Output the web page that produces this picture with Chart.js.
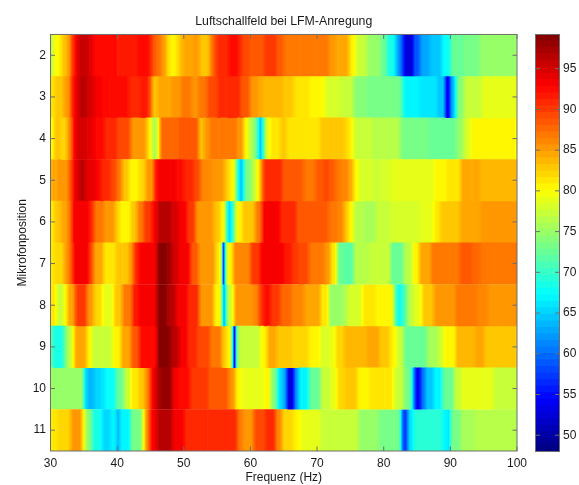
<!DOCTYPE html>
<html>
<head>
<meta charset="utf-8">
<title>Luftschallfeld bei LFM-Anregung</title>
<script src="https://cdn.jsdelivr.net/npm/chart.js@4/dist/chart.umd.min.js"></script>
<style>
  html, body { margin: 0; padding: 0; background: #fff; overflow: hidden; }
  canvas { position: absolute; top: 0; }
  #field { left: 0; }
  #scale { left: 520px; }
</style>
</head>
<body>
<canvas id="field" width="540" height="485"></canvas>
<canvas id="scale" width="59" height="485"></canvas>
<script>
// Microphone positions, top to bottom
const positions = ["2", "3", "4", "5", "6", "7", "8", "9", "10", "11"];

// Each row: [frequency in Hz where the band starts, level]; a band runs up to the next start
const row2 = [[30,77],[30.4,79.5],[31,80.5],[31.6,82.5],[32.2,84],[32.8,87],[33.2,91],[33.8,94],[34.2,95.5],[35.8,94],[36.4,92.8],[39.8,92],[40,91.3],[42.8,92],[45,90],[45.4,88],[46,87],[46.6,85.5],[47,84.5],[47.4,82],[47.8,80.8],[49,82],[49.4,83.5],[50,84.5],[51.4,85],[52.2,84],[52.6,82.5],[53.6,84],[54,87],[54.5,89],[55,91],[56.8,92.5],[58.2,90.5],[58.8,89],[60,88],[62,90],[64,88],[65,87],[67.25,86.4],[70,87],[71.75,85],[73,84],[74.75,82],[75.1,80],[75.9,77],[77.5,75],[79.5,72.5],[80.5,68],[81.75,63],[82.5,58],[83.1,52],[84.4,59],[85.5,63],[87,64.5],[88.75,67.5],[90,72],[92,73.5],[94.5,75]];
const row3 = [[30,81.5],[30.75,83],[32,85],[33,91],[33.6,94],[34.25,96],[35.6,94.5],[36.5,93.5],[37.5,92.8],[38.75,92],[41.75,91],[43.5,91.5],[44.75,88],[45.25,83],[46,84],[48,85],[49.5,86.4],[51.25,85.5],[52.25,87],[53.5,89],[55,90.5],[56.5,91],[58.5,88],[60,85],[61.25,84],[62,83.5],[65,82.5],[66.5,81.5],[68.75,80.5],[70.5,80],[71.25,78],[73.5,77],[75.5,74],[77.25,73.5],[82.5,70.5],[83,66.5],[85.5,66],[88,64.5],[89.25,53],[89.85,60],[90.25,65],[90.9,74],[92,77],[94.75,79]];
const row4 = [[30,80],[30.5,83],[31.5,82],[32.5,86],[33.25,92],[33.75,95],[35.5,94],[36.5,92.8],[38,91],[40,89],[42,85.5],[44.25,83],[44.75,80],[45.25,75.5],[46,80],[46.4,87.5],[49,88],[52.25,83],[53,85],[53.75,86.4],[55.5,87],[58,85],[59,80],[59.75,76],[60.6,72],[61.2,64],[61.8,72],[62.25,79],[63,81.5],[64.5,82.5],[65.5,81.3],[70.5,83],[74,82],[74.75,80.5],[75.5,77],[78.5,76],[82.5,73.5],[86.5,72.8],[91,75],[92,78],[93,80]];
const row5 = [[30,84],[31,85.5],[32.75,89],[33.4,94],[34.25,96],[35.25,94],[36.75,92.8],[37.5,91],[39,89],[40,86.5],[40.75,83],[41.75,80.5],[43.25,82],[44.25,85],[45.5,91],[46,93.3],[47.75,93],[49,92],[50,91],[51.5,89],[52.5,86],[54,85.5],[56,83],[56.75,80.5],[57.75,71],[58.25,64],[59,73],[60,76],[60.75,80],[61.5,87],[62,91],[64.75,88],[68,87],[69.75,88],[71,89.5],[71.75,88],[72.75,87],[73.5,86],[74.75,84],[75.5,80],[76.25,78],[78.5,77.5],[79.5,78],[81,78.5],[87.5,80],[89.25,81],[91.5,84],[93.25,84.3],[94.5,83.5]];
const row6 = [[30,81],[30.6,83],[31.5,84],[32.5,87],[33.25,93.5],[35.75,91],[36.5,87],[38,85],[39.75,82],[40.5,80],[42,83],[43,86.5],[44,90],[45.25,93],[46,96],[48.25,94.5],[49.25,93],[50.5,90],[51.75,85],[54.5,83],[55.5,80],[56.25,72],[56.5,65.5],[57.25,72],[57.75,80],[58.75,83],[60.75,87],[61.75,93],[64.5,90.5],[67,88],[71.75,87],[73,86],[74,83],[74.75,80],[75.5,76.5],[77,75.5],[78.75,77],[81,78],[85.5,79],[87.5,81],[88.5,83],[91.5,84.5],[94.5,85]];
const row7 = [[30,81],[30.6,82],[32,85],[32.75,88],[33.4,93.5],[35.75,89],[36.5,84],[38,81],[39.75,83],[40.75,82.5],[41.75,85.5],[42.5,91],[43.25,93],[46,99],[47.5,97.5],[48.25,95],[49.25,93],[51,88],[52.25,85],[54.75,81],[55.6,73],[55.8,56],[56.15,74],[56.5,80.5],[57.4,86],[60,90],[61.5,93.5],[65,91.5],[66.25,90],[67.25,89],[68.75,87],[71,85.5],[72,81],[73,72.5],[74,71.8],[75.5,76.5],[78,77.5],[81,72.5],[83,76.5],[84.25,80],[85.25,84],[87,86.4],[90,87],[91.5,88.5],[93.25,87.5],[94.5,87]];
const row8 = [[30,81],[30.9,77.5],[32,80],[32.5,84],[33.4,86.5],[33.75,89.7],[35.5,85],[36.5,82],[37.75,79],[39.5,83],[40.75,86.4],[42.25,91.5],[43.25,93.5],[46,99],[47.5,96.5],[48.75,93.5],[50.5,91],[52.25,85.5],[54.5,80.5],[55.75,63],[56.3,73],[56.6,78],[57.5,85],[60.25,86],[61.25,90],[62,92.3],[63,90],[64.5,87.5],[66.25,86],[68,84.8],[70.5,81],[71.75,74.5],[73.5,75.5],[74.5,78],[76.75,81],[79,80],[81.5,72],[82,67.5],[82.75,71],[83.5,76.5],[84.5,79],[85.75,83],[87.5,85],[90.75,86.8],[94,86],[95.5,85.5]];
const row9 = [[30,71],[30.5,68],[32,74],[32.75,78],[33.5,84],[35.5,80],[36.25,77],[37.75,77.5],[39.25,80],[40.5,84],[42,88],[43.25,92],[46,99],[48,96],[49.25,93.5],[50.5,91],[52,89],[54,86.4],[55.75,82.5],[56.5,80],[57.25,65],[57.5,53],[57.8,74],[58.25,77.3],[61.5,80.5],[62.5,84],[64,83],[66.25,82],[68.75,80.5],[70.5,78],[71.75,79],[72.75,82],[74,83.5],[77.25,84],[79.5,82.5],[81,80.5],[82,77],[83,72.5],[86.5,75.5],[88.25,78],[89,80],[90.75,83.5],[93.5,84],[95.25,82.5]];
const row10 = [[30,75],[35,66],[35.5,63.5],[36.5,65],[37.5,66],[38.25,67.5],[39.75,72],[41,77],[42,81],[43.25,83],[44.25,86.5],[45,93],[45.75,96.5],[46.5,98],[48.25,93.5],[49.25,92],[51,90],[53.75,88],[56.75,85.5],[57.75,80],[58.75,78.5],[62,80.5],[63,74],[64,66],[64.75,63],[65.5,52],[66.5,62],[67.25,67],[68.75,72],[70.5,77],[72,79],[73,82],[74.25,83],[76,80.5],[78,81.5],[80,81],[81.5,77.5],[83,73],[84.25,62],[84.75,53],[85.5,60],[86.25,64.5],[87.5,67],[88.75,72],[90.5,77],[91.5,78.5],[96.5,77.3]];
const row11 = [[30,81],[31,82],[33,85],[34.75,80],[35.25,74],[36.25,68],[37.75,65],[39,67],[39.9,63.5],[40.4,67],[42,73],[43.75,80],[44.25,87],[45,93.5],[46,96.5],[48.25,93.5],[50,91],[53.5,90.5],[56,91],[58,87],[58.75,85.5],[60.5,89],[62.25,91],[63.75,86],[64.75,82],[66.5,80.5],[67.5,79],[70.5,77],[76.25,74.5],[79.25,73.5],[82.5,65],[82.8,57],[83.6,66],[84.5,69.5],[88.75,67],[89.5,66],[90,73],[91.5,75.5],[93.5,76]];

const rows = [row2, row3, row4, row5, row6, row7, row8, row9, row10, row11];

// Colour bar: 64 levels of the jet map, each 0.8 wide
const barLevels = [48,48.8,49.6,50.4,51.2,52,52.8,53.6,54.4,55.2,56,56.8,57.6,58.4,59.2,60,60.8,61.6,62.4,63.2,64,64.8,65.6,66.4,67.2,68,68.8,69.6,70.4,71.2,72,72.8,73.6,74.4,75.2,76,76.8,77.6,78.4,79.2,80,80.8,81.6,82.4,83.2,84,84.8,85.6,86.4,87.2,88,88.8,89.6,90.4,91.2,92,92.8,93.6,94.4,95.2,96,96.8,97.6,98.4];
const barTicks = [50, 55, 60, 65, 70, 75, 80, 85, 90, 95];
const freqTicks = [30, 40, 50, 60, 70, 80, 90, 100];

const LEVEL_MIN = 48;
const LEVEL_MAX = 99.2;
const LEVEL_STEP = 0.8;
const FREQ_MIN = 30;
const FREQ_MAX = 100;
const BLEND_HZ = 0.35; // soft edge between neighbouring bands
const FONT = { family: "'Liberation Sans', Arial, sans-serif", size: 12 };
const TEXT_COLOR = "#1a1a1a";
const FRAME_COLOR = "#6e6e6e";
const TICK_LEN = 4.5;

// Matlab style jet colour for a level
function jetColor(level) {
  const t = Math.max(0, Math.min(1, (level - LEVEL_MIN) / (LEVEL_MAX - LEVEL_MIN)));
  const channel = (c) => Math.round(255 * Math.max(0, Math.min(1, Math.min(4 * t - c + 1.5, -4 * t + c + 1.5))));
  return `rgb(${channel(3)},${channel(2)},${channel(1)})`;
}

// Same colour snapped to the 64 steps of the colour bar
function steppedColor(level) {
  const index = Math.min(63, Math.max(0, Math.floor((level - LEVEL_MIN) / LEVEL_STEP)));
  return jetColor(LEVEL_MIN + (index + 0.5) * LEVEL_STEP);
}

// Fill of one band: flat in the middle, running through the jet map towards its neighbours
function bandFill(context, row, band) {
  const xScale = context.chart.scales.x;
  const current = row[band];
  if (!current) return "transparent";
  if (!xScale) return steppedColor(current[1]);
  const start = current[0];
  const end = row[band + 1] ? row[band + 1][0] : FREQ_MAX;
  const x0 = xScale.getPixelForValue(start);
  const x1 = xScale.getPixelForValue(end);
  // the scale has no pixels yet during the first pass
  if (!Number.isFinite(x0) || !Number.isFinite(x1)) return steppedColor(current[1]);
  const prevLevel = band > 0 ? row[band - 1][1] : current[1];
  const nextLevel = row[band + 1] ? row[band + 1][1] : current[1];
  const edge = Math.min(BLEND_HZ, (end - start) / 2) / (end - start);
  const fill = context.chart.ctx.createLinearGradient(x0, 0, x1, 0);
  [0, 0.25, 0.5, 0.75].forEach((f) => {
    fill.addColorStop(f * edge, jetColor((prevLevel + current[1]) / 2 + f * (current[1] - prevLevel) / 2));
    fill.addColorStop(1 - f * edge, jetColor((nextLevel + current[1]) / 2 + f * (current[1] - nextLevel) / 2));
  });
  fill.addColorStop(edge, steppedColor(current[1]));
  fill.addColorStop(1 - edge, steppedColor(current[1]));
  return fill;
}

// Matlab axes: thin box with the ticks pointing inwards on all sides
const frameTicks = {
  id: "frameTicks",
  afterDraw(chart, args, opts) {
    const { ctx, chartArea: a, scales } = chart;
    ctx.save();
    ctx.strokeStyle = FRAME_COLOR;
    ctx.lineWidth = 1;
    ctx.strokeRect(a.left, a.top, a.right - a.left, a.bottom - a.top);
    ctx.beginPath();
    if (opts.xTicks) {
      scales.x.ticks.forEach((tick, i) => {
        const x = scales.x.getPixelForTick(i);
        ctx.moveTo(x, a.top);
        ctx.lineTo(x, a.top + TICK_LEN);
        ctx.moveTo(x, a.bottom);
        ctx.lineTo(x, a.bottom - TICK_LEN);
      });
    }
    scales.y.ticks.forEach((tick, i) => {
      const y = scales.y.getPixelForTick(i);
      ctx.moveTo(a.left, y);
      ctx.lineTo(a.left + TICK_LEN, y);
      ctx.moveTo(a.right, y);
      ctx.lineTo(a.right - TICK_LEN, y);
    });
    ctx.stroke();
    ctx.restore();
  },
};

// One dataset per band index; every band overlaps the next a bit so no seams show
function buildFieldDatasets() {
  const datasets = [];
  const bandCount = Math.max(...rows.map((row) => row.length));
  for (let band = 0; band < bandCount; band++) {
    datasets.push({
      data: rows.map((row) => {
        if (!row[band]) return null;
        const end = row[band + 1] ? row[band + 1][0] + 0.1 : FREQ_MAX;
        return [row[band][0], end];
      }),
      backgroundColor: (context) => bandFill(context, rows[context.dataIndex], band),
      borderWidth: 0,
      barPercentage: 1.01,
      categoryPercentage: 1,
      grouped: false,
      order: -band,
    });
  }
  return datasets;
}

new Chart(document.getElementById("field"), {
  type: "bar",
  data: { labels: positions, datasets: buildFieldDatasets() },
  plugins: [frameTicks],
  options: {
    indexAxis: "y",
    responsive: false,
    animation: false,
    layout: { autoPadding: false, padding: { top: 0, right: 23, bottom: 0, left: 0 } },
    plugins: {
      legend: { display: false },
      tooltip: { enabled: false },
      frameTicks: { xTicks: true },
      title: {
        display: true,
        text: "Luftschallfeld bei LFM-Anregung",
        fullSize: false,
        color: TEXT_COLOR,
        font: { ...FONT, size: 12.3, weight: "normal" },
        padding: { top: 14, bottom: 5.7 },
      },
    },
    scales: {
      x: {
        type: "linear",
        min: FREQ_MIN,
        max: FREQ_MAX,
        afterFit: (scale) => { scale.height = 34; },
        afterBuildTicks: (scale) => { scale.ticks = freqTicks.map((value) => ({ value })); },
        grid: { display: false, drawTicks: false },
        border: { display: false },
        ticks: { color: TEXT_COLOR, font: FONT, padding: 5.5, maxRotation: 0, autoSkip: false },
        title: { display: true, text: "Frequenz (Hz)", color: TEXT_COLOR, font: FONT, padding: 0 },
      },
      y: {
        type: "category",
        afterFit: (scale) => { scale.width = 50.5; },
        grid: { display: false, drawTicks: false },
        border: { display: false },
        ticks: { color: TEXT_COLOR, font: FONT, padding: 4.5, autoSkip: false },
        title: { display: true, text: "Mikrofonposition", color: TEXT_COLOR, font: FONT, padding: { top: 15, bottom: 0 } },
      },
    },
  },
});

new Chart(document.getElementById("scale"), {
  type: "bar",
  data: {
    labels: [""],
    datasets: barLevels.map((level, i) => ({
      data: [[level, level + LEVEL_STEP + 0.05]],
      backgroundColor: steppedColor(level + LEVEL_STEP / 2),
      borderWidth: 0,
      barPercentage: 1,
      categoryPercentage: 1,
      grouped: false,
      order: i,
    })),
  },
  plugins: [frameTicks],
  options: {
    responsive: false,
    animation: false,
    layout: { autoPadding: false, padding: { top: 34.5, right: 0, bottom: 33.5, left: 15.5 } },
    plugins: {
      legend: { display: false },
      tooltip: { enabled: false },
      frameTicks: { xTicks: false },
    },
    scales: {
      x: { display: false },
      y: {
        type: "linear",
        position: "right",
        min: LEVEL_MIN,
        max: LEVEL_MAX,
        afterFit: (scale) => { scale.width = 19.5; },
        afterBuildTicks: (scale) => { scale.ticks = barTicks.map((value) => ({ value })); },
        grid: { display: false, drawTicks: false },
        border: { display: false },
        ticks: { color: TEXT_COLOR, font: FONT, padding: 3.5, autoSkip: false },
      },
    },
  },
});
</script>
</body>
</html>
